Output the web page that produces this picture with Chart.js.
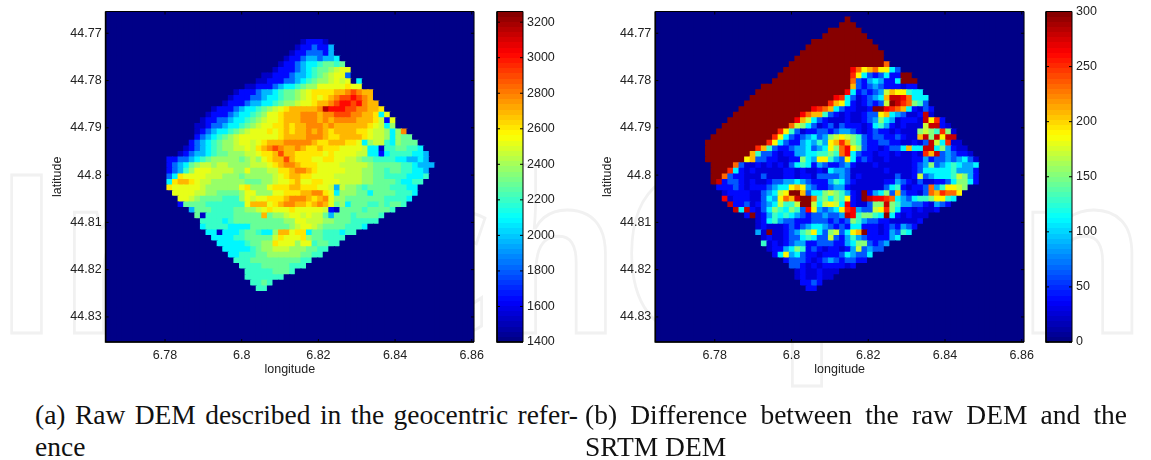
<!DOCTYPE html>
<html>
<head>
<meta charset="utf-8">
<title>DEM</title>
<script src="https://cdn.jsdelivr.net/npm/chart.js@4"></script>
<style>
  html, body { margin: 0; padding: 0; background: #fff; overflow: hidden; }
  #page { position: relative; width: 1151px; height: 460px; overflow: hidden; }
  canvas { position: absolute; top: 0; }
  #mark { position: absolute; left: -6px; top: 117px; font: 700 221px "Open Sans", sans-serif; line-height: 262px;
          color: #fff; -webkit-text-stroke: 3px #f1f1f1; white-space: nowrap;
          transform: scaleX(0.89); transform-origin: 0 0; }
  .cap { position: absolute; font: 27.5px/34px "Liberation Serif", serif; color: #111; }
  .fill { text-align: justify; text-align-last: justify; }
</style>
</head>
<body>
<div id="page">
  <div id="mark">IntechOpen</div>
  <canvas id="demMap" width="490" height="385" style="left:0"></canvas>
  <canvas id="demBar" width="90" height="360" style="left:490px"></canvas>
  <canvas id="diffMap" width="480" height="385" style="left:560px"></canvas>
  <canvas id="diffBar" width="111" height="360" style="left:1040px"></canvas>
  <div class="cap fill" style="left:35px;top:398px;width:543px">(a) Raw DEM described in the geocentric refer-</div>
  <div class="cap" style="left:35px;top:430px">ence</div>
  <div class="cap fill" style="left:585px;top:398px;width:542px">(b) Difference between the raw DEM and the</div>
  <div class="cap" style="left:585px;top:430px">SRTM DEM</div>
</div>
<script>
const lonTicks = [6.78, 6.8, 6.82, 6.84, 6.86];
const latTicks = [44.77, 44.78, 44.79, 44.8, 44.81, 44.82, 44.83];
const demBarTicks = [1400, 1600, 1800, 2000, 2200, 2400, 2600, 2800, 3000, 3200];
const diffBarTicks = [0, 50, 100, 150, 200, 250, 300];
const lonRange = [6.7645, 6.8606];
const latRange = [44.7654, 44.8353];
const demRange = [1400, 3260];
const diffRange = [0, 300];
const gridCols = 66;
const gridRows = 59;

// each letter of the rows below stands for one value
const levelKeys = "abcdefghijklmnop";
const demLevels = [1520, 1660, 1820, 1960, 2090, 2200, 2290, 2380, 2450, 2520, 2600, 2680, 2780, 2900, 3020, 3150];
const diffLevels = [24, 38, 62, 85, 112, 130, 150, 170, 180, 190, 210, 230, 250, 265, 280, 300];

const demFirstRow = 5;
const demRowStarts = [35, 34, 33, 32, 31, 30, 28, 27, 25, 23, 22, 21, 19, 18, 17, 16, 16, 16, 15, 14, 13, 11, 11, 11, 11, 11, 11, 12, 13, 13, 15, 16, 17, 17, 18, 19, 20, 21, 22, 23, 24, 25, 25, 26, 27];
const demRowCells = [
  "abbba",
  "abbcbbd",
  "abbcccbd",
  "abbcddcdde",
  "abbcdeefggfg",
  "abbbcdefgghijj",
  "aabbbcddefghijjc",
  "aabbbccdefghhijij.e",
  "aabbbcdeefghhjjjjjkjj",
  "abbbcddefgghijkkkkllmnmll",
  "abbbccdeefgghijkjklmnnonml",
  "abbbcddeefghhijjkllmnoonomll",
  "abbbcdeefghijklllllmpooonnmmllk",
  "abbbcdeefghjjklllmmmlmmnnnmmllkej",
  "abbccdeefghijjklllmmmlmlmmmmlllkibj",
  "aabccdeefghijjkklkllmmmlmllllllkjieh",
  "abcdeefghijjjkjklkllmlmlkllllkkjiihehm",
  "bcdefghijjjjjjjkllllmmmlkkllllkjiihehgg",
  "bcdefghhijjijklllmmmmmlkklllkkjehiifehggg",
  "abcdefghhiijiklmnmllmlkklkkkjjjjieeaffggffe",
  "abcddefgghhhiijkklnllkkkkkjkjjjjiieebeffffeed",
  "bbccdefghhhhhghihjkllnlkkkjjkkjjiihggffffeedded",
  "bcdeghiihiihhhhiiijklmmlkkkjjjjiiiiihgggggffeddd",
  "bcdfhjjjiiiihhjhhhiikklmmlkjjjjjiiihhggfggffeed",
  "cekjjjjiiihhhghhhhhijkllkkjjjjiiiiihhggffffeeef",
  "ekllkjiihhhhhhggghhijjkljjkkjjjiiiihhggggfeeff",
  "kjjjjjihhhhhhjkhhhjkkkllkkkjjidihhgfggggfffee",
  "jjjjiihhgggghjjhhhjjkkkllmmkjehhhggeggggfffe",
  "jjihggggfffhjijjkkklmmmlklmjhhgggggggffffe",
  "bggggfffffffjllljklmmllklmljghegggffgfggf",
  "dgggffffgghhijkjjjkjjjjjibaggggfggggf",
  "gafffffggggglghhijjijiigdgggfggggf",
  "ffffefggggggggghhjjiiihhgggfffff",
  "effffeeeeggggggghijjihggggfffe",
  "eeaeeefggfeehlljkkeggfffeff",
  "eeeeffgggggikjjjkhggffff",
  "eeeeefgghhkjjjhjjfggff",
  "eeeeefghhiiihhhggff",
  "eefffgghhhhhhggff",
  "fffgggggggggff",
  "ffffgggggfff",
  "fffffgggf",
  "fffffff",
  "ffgf",
  "ff"
];

const diffFirstRow = 1;
const diffRowStarts = [34, 33, 31, 30, 28, 27, 26, 25, 24, 23, 22, 21, 19, 18, 17, 16, 15, 14, 13, 12, 11, 10, 9, 9, 9, 9, 10, 10, 10, 10, 11, 12, 12, 13, 14, 16, 18, 18, 18, 19, 19, 20, 21, 23, 24, 25, 25, 26, 27];
const diffRowCells = [
  "p",
  "ppp",
  "pppppp",
  "pppppppp",
  "ppppppppppp",
  "ppppppppppppp",
  "ppppppppppppppp",
  "pppppppppppppppp",
  "pppppppppppppppppl",
  "ppppppppppppnljkljjec",
  "pppppppppppppmjecbcebbpp",
  "pppppppppppppplcbdedbbeppp",
  "ppppppppppppppppkcbcdcbbbabb",
  "ppppppppppppppppnebcbcdhkjjfee",
  "pppppppppppppppnmecabcdekoonleee",
  "pppppppppppppppmkjebabcbchpomlgfc",
  "pppppppppppppnmlkecbbaabppnmlkebacb",
  "ppppppppppppnlkkfcbabaabccjkedcaaboa",
  "ppppppppppppnkhecbaaabaabcdgedabbbaojmb",
  "pppppppppppplhgecabcacbbbabefdbabaaahooba",
  "pppppppppppmjfcabbccbcddcbabcbbabaaaghgfmga",
  "pppppppppppmjecbcdecdghjhgfcbccbbcbaakogojoo",
  "pppppppppppmjecbbdedfdjkmkgfcbbccbbaabacohemaa",
  "pppppppppmkfcbbcddecdejglnjgcbbabccekeeooegdbaa",
  "ppppppppkfccbabbddeeffgflnecbbabbabaabamkocdcbba",
  "pppppppjkccbbaabbgedjjfdcjebcbaabaaaabbdbccdcdeca",
  "pppplcaabababacefebdcbbcdbaaabaaaaaabcdgcdefedde",
  "pppmebabaaaaabbabaabaeddcaaaaaabaaaabceeeeefdddb",
  "pplcbbaaacaaabbabbaccccdcabaaaaaacaabhcdeeefhgdb",
  "pobccbabaabccddedcbbbdfecbaaaaabbdcbacaabbceggeb",
  "bbbcbabbbcdeejkjdcbbcddbaaaaaacefbabbcldfjjhg",
  "abbbbaacdehjppkceeghgfdbapbdegckcbbaclkmllj",
  "nabbbaacedjlkopplfgegfjbaponnmledceffgjjfe",
  "obbcabcdehffhpphehjhenbaacggogfddccbadcb",
  "oeobacegfegfcnjdcdejmndcchjmgebbabaab",
  "bpabdfefedcbccdccdonfggfepebabaaa",
  "abefdccbbbcccbcbcgfdccbbaaaaab",
  "abaaabcbcdeedcbcbeebbbabcbdcb",
  "dapaabcdfgjecghcejkpbbabdcfe",
  "abaabccefecchcbdfdcbbbbde",
  "fababcddbbcccbbdeggcbcd",
  "abbdegfbcbabbabdhcdcc",
  "bejdecbbabbbcedcce",
  "bcccbabcdcbccbb",
  "ccbababbbbab",
  "abaabaaa",
  "abaabaa",
  "bbcb",
  "bb"
];

const FONT = { family: '"Liberation Sans", Arial, sans-serif', size: 12.5 };
const INK = "#222";

// matlab style jet colormap, 64 flat steps
function jet(t) {
  const s = Math.min(63, Math.floor(t * 64));
  const v = (s + 0.5) / 64;
  const ch = p => Math.round(255 * Math.max(0, Math.min(1, 1.5 - Math.abs(4 * v - p))));
  return "rgb(" + ch(3) + "," + ch(2) + "," + ch(1) + ")";
}

function buildCells(firstRow, starts, cells, levels, range) {
  const pts = [];
  const dLon = (lonRange[1] - lonRange[0]) / gridCols;
  const dLat = (latRange[1] - latRange[0]) / gridRows;
  for (let r = 0; r < gridRows; r++) {
    const text = cells[r - firstRow] || "";
    const start = starts[r - firstRow] || 0;
    for (let c = 0; c < gridCols; c++) {
      const ch = text.charAt(c - start);
      const k = ch ? levelKeys.indexOf(ch) : -1;
      pts.push({
        x: lonRange[0] + (c + 0.5) * dLon,
        y: latRange[0] + (r + 0.5) * dLat,
        v: k < 0 ? range[0] : levels[k]
      });
    }
  }
  return pts;
}

// box around the plot with small ticks pointing inwards
const frame = {
  id: "frame",
  afterDraw(chart) {
    const a = chart.chartArea, g = chart.ctx, x = chart.scales.x, y = chart.scales.y;
    g.save();
    g.strokeStyle = "#000";
    g.lineWidth = 1;
    g.beginPath();
    const len = 3;
    if (chart.config.type === "scatter") {
      lonTicks.forEach(v => {
        const p = x.getPixelForValue(v);
        g.moveTo(p, a.top); g.lineTo(p, a.top + len);
        g.moveTo(p, a.bottom); g.lineTo(p, a.bottom - len);
      });
      latTicks.forEach(v => {
        const p = y.getPixelForValue(v);
        g.moveTo(a.left, p); g.lineTo(a.left + len, p);
        g.moveTo(a.right, p); g.lineTo(a.right - len, p);
      });
    } else {
      chart.options.barTicks.forEach(v => {
        const p = y.getPixelForValue(v);
        g.moveTo(a.left, p); g.lineTo(a.left + len, p);
        g.moveTo(a.right, p); g.lineTo(a.right - len, p);
      });
    }
    g.rect(a.left, a.top, a.right - a.left, a.bottom - a.top);
    g.stroke();
    g.beginPath();
    g.lineWidth = 1.6;
    g.moveTo(a.left, a.top); g.lineTo(a.left, a.bottom); g.lineTo(a.right, a.bottom);
    g.stroke();
    g.restore();
  }
};

function drawMap(id, pts, range, axisWidth, titleGap, rightPad) {
  // a bit oversized so neighbouring cells leave no seams
  const cellRadius = 370.2 / gridCols / Math.SQRT2 * 1.2;
  new Chart(document.getElementById(id), {
    type: "scatter",
    data: {
      datasets: [{
        data: pts,
        pointStyle: "rect",
        pointRadius: cellRadius,
        pointBorderWidth: 0,
        pointBackgroundColor: pts.map(p => jet((p.v - range[0]) / (range[1] - range[0])))
      }]
    },
    plugins: [frame],
    options: {
      responsive: false,
      animation: false,
      layout: { padding: { top: 11, right: rightPad } },
      plugins: { legend: { display: false }, tooltip: { enabled: false } },
      scales: {
        x: {
          type: "linear", min: lonRange[0], max: lonRange[1],
          afterBuildTicks: s => { s.ticks = lonTicks.map(v => ({ value: v })); },
          afterFit: s => { s.height = 43; },
          grid: { display: false, drawTicks: false }, border: { display: false },
          ticks: { color: INK, font: FONT, padding: 6, maxRotation: 0, autoSkip: false, callback: v => String(v) },
          title: { display: true, text: "longitude", color: INK, font: FONT, padding: { top: 1, bottom: 8 } }
        },
        y: {
          type: "linear", reverse: true, min: latRange[0], max: latRange[1],
          afterBuildTicks: s => { s.ticks = latTicks.map(v => ({ value: v })); },
          afterFit: s => { s.width = axisWidth; },
          grid: { display: false, drawTicks: false }, border: { display: false },
          ticks: { color: INK, font: FONT, padding: 4, autoSkip: false, callback: v => String(v) },
          title: { display: true, text: "latitude", color: INK, font: FONT, padding: { top: titleGap, bottom: 0 } }
        }
      }
    }
  });
}

function drawBar(id, range, tickValues, leftPad) {
  new Chart(document.getElementById(id), {
    type: "bar",
    data: {
      labels: ["colorbar"],
      datasets: [{
        data: [range],
        barPercentage: 1,
        categoryPercentage: 1,
        backgroundColor(ctx) {
          const a = ctx.chart.chartArea;
          if (!a) return "#00f";
          const grad = ctx.chart.ctx.createLinearGradient(0, a.bottom, 0, a.top);
          for (let i = 0; i < 64; i++) {
            const c = jet((i + 0.5) / 64);
            grad.addColorStop(i / 64, c);
            grad.addColorStop((i + 1) / 64, c);
          }
          return grad;
        }
      }]
    },
    plugins: [frame],
    options: {
      responsive: false,
      animation: false,
      barTicks: tickValues,
      layout: { padding: { top: 11, bottom: 18, left: leftPad } },
      plugins: { legend: { display: false }, tooltip: { enabled: false } },
      scales: {
        x: { display: false },
        y: {
          position: "right", min: range[0], max: range[1],
          afterBuildTicks: s => { s.ticks = tickValues.map(v => ({ value: v })); },
          afterFit: s => { s.width = s.chart.width - leftPad - 26; },
          grid: { display: false, drawTicks: false }, border: { display: false },
          ticks: { color: INK, font: FONT, padding: 4, autoSkip: false, callback: v => String(v) }
        }
      }
    }
  });
}

drawMap("demMap", buildCells(demFirstRow, demRowStarts, demRowCells, demLevels, demRange), demRange, 105.6, 50, 14.3);
drawBar("demBar", demRange, demBarTicks, 7);
drawMap("diffMap", buildCells(diffFirstRow, diffRowStarts, diffRowCells, diffLevels, diffRange), diffRange, 95.3, 40, 14.4);
drawBar("diffBar", diffRange, diffBarTicks, 6);
</script>
</body>
</html>
